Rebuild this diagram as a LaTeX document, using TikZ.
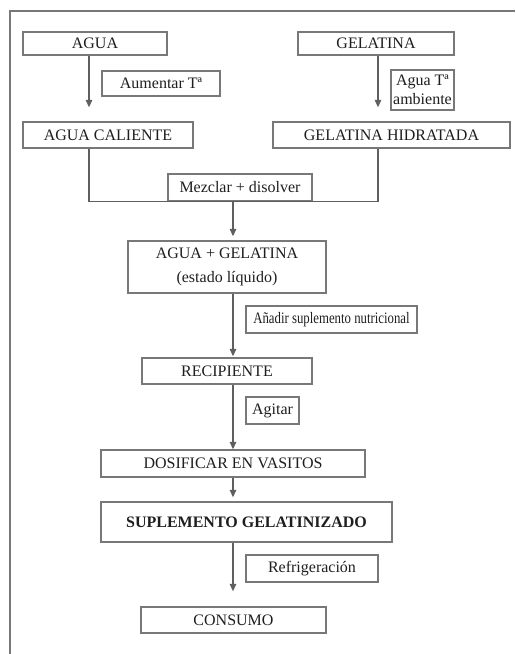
\documentclass[tikz,border=0pt]{standalone}
\usepackage{fontspec}
\setmainfont{Liberation Serif}
\usetikzlibrary{arrows.meta}
\definecolor{linegray}{RGB}{95,95,95}
\definecolor{boxgray}{RGB}{120,120,120}
\definecolor{textgray}{RGB}{30,30,30}

\begin{document}
\begin{tikzpicture}[x=1pt,y=-1pt,>={Triangle[width=6.5pt,length=7.5pt]},
  box/.style={draw=boxgray,line width=1.3pt,inner sep=0pt,text=textgray,
    font=\fontsize{16}{19}\selectfont,align=center},
  flow/.style={->,linegray,line width=1.2pt}]
  \useasboundingbox (0,0) rectangle (515,654);
  % frame of the figure, cut at the right and bottom
  \draw[boxgray,line width=1.4pt] (10,654) -- (10,11) -- (515,11);
  % process steps
  \node[box,minimum width=144pt,minimum height=23pt] (agua) at (95,43.5) {AGUA};
  \node[box,minimum width=156pt,minimum height=23pt] (gelatina) at (376,43.5) {GELATINA};
  \node[box,minimum width=118pt,minimum height=25pt] (aumentar) at (161,83.5) {Aumentar Tª};
  \node[box,minimum width=63pt,minimum height=40pt,font=\fontsize{16}{19}\selectfont] (ambiente) at (422.5,90) {Agua Tª\\ambiente};
  \node[box,minimum width=170pt,minimum height=26pt] (caliente) at (108,135) {AGUA CALIENTE};
  \node[box,minimum width=237pt,minimum height=26pt] (hidratada) at (391.5,135) {GELATINA HIDRATADA};
  \node[box,minimum width=144pt,minimum height=27pt] (mezclar) at (240,187.5) {Mezclar + disolver};
  \node[box,minimum width=198pt,minimum height=52pt,font=\fontsize{16}{24}\selectfont] (mezcla) at (227,267) {AGUA + GELATINA\\(estado líquido)};
  \node[box,minimum width=171pt,minimum height=27pt] (anadir) at (331.5,319.5) {\scalebox{0.8}[1]{Añadir suplemento nutricional}};
  \node[box,minimum width=170pt,minimum height=26pt] (recipiente) at (227,371) {RECIPIENTE};
  \node[box,minimum width=53pt,minimum height=27pt] (agitar) at (272.5,410.5) {Agitar};
  \node[box,minimum width=264pt,minimum height=27pt] (dosificar) at (233,463.5) {DOSIFICAR EN VASITOS};
  \node[box,minimum width=291pt,minimum height=40pt,font=\fontsize{16}{19}\selectfont\bfseries] (suplemento) at (246.5,522) {SUPLEMENTO GELATINIZADO};
  \node[box,minimum width=132pt,minimum height=27pt] (refrigeracion) at (312,568.5) {Refrigeración};
  \node[box,minimum width=185pt,minimum height=26pt] (consumo) at (233.5,620) {CONSUMO};
  % columns of the connectors
  \coordinate (lx) at (89,0);
  \coordinate (rx) at (378,0);
  \coordinate (mx) at (233,0);
  \draw[flow,shorten >=14pt] (lx |- agua.south) -- (lx |- caliente.north);
  \draw[flow,shorten >=14pt] (rx |- gelatina.south) -- (rx |- hidratada.north);
  \draw[linegray,line width=1.2pt] (lx |- caliente.south) |- (rx |- mezclar.south) -- (rx |- hidratada.south);
  \draw[flow,shorten >=4pt] (mx |- mezclar.south) -- (mx |- mezcla.north);
  \draw[flow,shorten >=1pt] (mx |- mezcla.south) -- (mx |- recipiente.north);
  \draw[flow] (mx |- recipiente.south) -- (mx |- dosificar.north);
  \draw[flow,shorten >=4pt] (mx |- dosificar.south) -- (mx |- suplemento.north);
  \draw[flow,shorten >=15pt] (mx |- suplemento.south) -- (mx |- consumo.north);
\end{tikzpicture}
\end{document}
